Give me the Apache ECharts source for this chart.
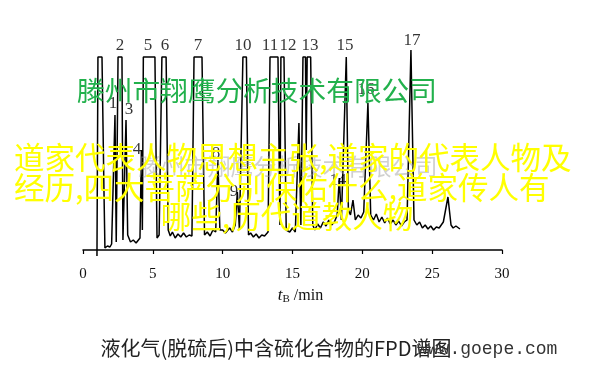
<!DOCTYPE html>
<html><head><meta charset="utf-8">
<script src="https://cdn.jsdelivr.net/npm/echarts@6/dist/echarts.min.js"></script>
<style>html,body{margin:0;padding:0;background:#fff}#c{width:596px;height:366px}</style>
</head><body><div id="c"></div>
<script>
// Chromatogram trace (retention time in min, detector signal in arbitrary units)
const retentionTime = [1.00,1.07,1.36,1.50,1.57,1.75,1.93,2.05,2.15,2.29,2.38,2.45,2.51,2.79,2.86,2.93,3.08,3.20,3.40,3.60,3.80,4.08,4.18,4.25,4.32,5.15,5.30,5.45,5.65,5.95,6.10,6.25,6.40,6.60,6.80,7.00,7.20,7.40,7.60,7.80,7.95,8.52,8.70,8.90,9.10,9.30,9.50,9.66,9.80,10.00,10.20,10.50,10.70,10.90,11.05,11.20,11.45,11.70,11.85,12.00,12.20,12.40,12.60,12.80,13.00,13.25,13.39,13.96,14.10,14.17,14.39,14.55,14.80,15.00,15.20,15.46,15.60,15.75,15.93,15.98,16.05,16.30,16.45,16.60,16.80,17.00,17.20,17.40,17.60,17.80,18.00,18.20,18.35,18.50,18.85,19.00,19.15,19.33,19.50,19.70,19.90,20.10,20.40,20.60,20.80,21.00,21.20,21.40,21.60,21.80,22.00,22.20,22.40,22.60,22.80,23.00,23.20,23.48,23.70,23.90,24.10,24.30,24.50,24.70,24.90,25.10,25.30,25.50,25.80,26.13,26.35,26.50,26.70,26.99];
const signal =        [-6,193,193,60,2,4,3,6,5,135,8,6,193,193,10,8,130,15,8,10,7,12,100,20,193,193,12,15,193,193,20,14,18,12,16,13,17,13,15,14,193,193,15,18,14,20,18,90,20,20,17,22,18,25,58,20,193,193,15,17,13,16,12,15,14,18,193,193,25,193,193,20,18,22,18,127,25,193,193,100,193,193,25,20,26,22,28,24,30,25,28,35,72,30,193,40,35,50,30,35,32,38,147,35,30,36,28,33,27,32,26,30,25,29,24,28,30,200,30,25,28,22,25,21,24,20,23,22,28,53,25,22,24,21];

// Peak numbers and where their labels sit (time, signal level)
const peakNames  = ['1','2','3','4','5','6','7','8','9','10','11','12','13','14','15','16','17'];
const peakTimes  = [2.15,2.65,3.29,3.87,4.65,5.87,8.23,9.52,10.81,11.45,13.39,14.67,16.25,18.25,18.75,20.26,23.55];
const peakLevels = [146,204,140,100,204,204,204,96,58,204,204,204,204,69,204,160,209];

const xMin = 0, xMax = 30, xStep = 5;
const axisTitle = ['t','B',' /min'];
const caption = '液化气(脱硫后)中含硫化合物的FPD谱图';
const siteText = 'www.goepe.com';
const companyText = '滕州市翔鹰分析技术有限公司';
const overlayLines = ['道家代表人物思想主张,道家的代表人物及','经历,四大菩萨分别保佑什么,道家传人有','哪些,历代道教人物'];

const serif = '"Liberation Serif","DejaVu Serif",serif';
const cjk = '"Noto Sans CJK SC","Noto Sans",sans-serif';
const yellowFont = '30.5px ' + cjk;

const chart = echarts.init(document.getElementById('c'), null, {renderer:'canvas'});
chart.setOption({
  animation:false,
  backgroundColor:'#fff',
  grid:{left:83,right:94,top:30,bottom:107},
  xAxis:{type:'value',min:xMin,max:xMax,interval:xStep,
    axisLine:{lineStyle:{color:'#000',width:1.5}},
    axisTick:{length:4,lineStyle:{color:'#000',width:1.2}},
    splitLine:{show:false},
    axisLabel:{color:'#111',fontFamily:serif,fontSize:15,margin:8},
    name:'{i|'+axisTitle[0]+'}{s|'+axisTitle[1]+'}{m|'+axisTitle[2]+'}',nameLocation:'middle',nameGap:24,
    nameTextStyle:{fontFamily:serif,fontSize:16,color:'#111',padding:[0,0,0,16],
      rich:{i:{fontStyle:'italic',fontFamily:serif,fontSize:17,color:'#111'},s:{fontFamily:serif,fontSize:11,color:'#111',padding:[8,0,0,0]},m:{fontFamily:serif,fontSize:16,color:'#111'}}}
  },
  yAxis:{type:'value',min:-9,max:220,show:false},
  series:[
    {type:'line',data:retentionTime.map((t,i)=>[t,signal[i]]),symbol:'none',
     lineStyle:{color:'#000',width:1.5},clip:false,z:2},
    {type:'scatter',data:peakTimes.map((t,i)=>[t,peakLevels[i],peakNames[i]]),symbolSize:0,clip:false,
     label:{show:true,position:'inside',formatter:p=>p.data[2],color:'#000',fontFamily:serif,fontSize:17},z:3}
  ],
  graphic:[
    {type:'text',x:276,y:348,z:5,style:{text:caption,fill:'#222',font:'20px '+cjk,align:'center',verticalAlign:'middle'}},
    {type:'text',x:417,y:349,z:6,style:{text:siteText,fill:'#333',font:'18px "Liberation Mono",monospace',align:'left',verticalAlign:'middle'}},
    {type:'text',x:288,y:166,z:10,style:{text:companyText,fill:'rgba(150,150,150,0.45)',font:'23px '+cjk,align:'center',verticalAlign:'middle'}},
    {type:'text',x:77,y:90,z:11,style:{text:companyText,fill:'#22b14c',font:'27.7px '+cjk,align:'left',verticalAlign:'middle'}},
    {type:'text',x:14,y:157,z:12,style:{text:overlayLines[0],fill:'#ffff00',font:yellowFont,align:'left',verticalAlign:'middle'}},
    {type:'text',x:14,y:187,z:12,style:{text:overlayLines[1],fill:'#ffff00',font:yellowFont,align:'left',verticalAlign:'middle'}},
    {type:'text',x:287,y:216,z:12,style:{text:overlayLines[2],fill:'#ffff00',font:yellowFont,align:'center',verticalAlign:'middle'}}
  ]
});
</script></body></html>
